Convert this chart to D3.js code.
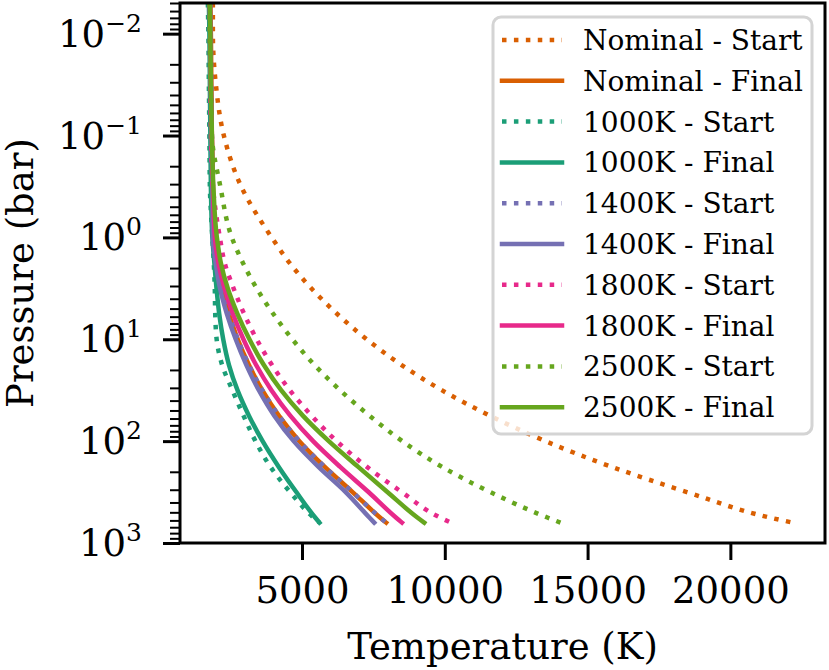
<!DOCTYPE html>
<html><head><meta charset="utf-8">
<script src="https://cdn.jsdelivr.net/npm/d3@7"></script>
<style>
body{margin:0;background:#fff}
svg{display:block}
text{font-family:"DejaVu Serif",serif;fill:#000}
</style>
</head><body>
<svg id="c" width="829" height="670"></svg>
<script>
// Pressure grid (bar) shared by every profile
const pressure = [0.005, 0.01, 0.0316, 0.1, 0.316, 1, 1.78, 3.16, 5.62, 10, 17.8, 31.6, 56.2, 100, 178, 316, 562, 631];

// Temperatures (K)
const nominalStart = [1878, 1878, 1983, 2262, 2870, 3936, 4564, 5324, 6224, 7264, 8474, 9894, 11574, 13524, 15824, 18474, 21374, 22178];
const nominalFinal = [1790, 1808, 1825, 1843, 1878, 1913, 2018, 2188, 2438, 2748, 3138, 3608, 4188, 4908, 5788, 6770, 7730, 7947];
const k1000Start  = [1703, 1720, 1738, 1756, 1773, 1860, 1910, 1945, 1960, 2010, 2200, 2560, 2950, 3370, 3890, 4580, 5400, 5610];
const k1000Final  = [1738, 1756, 1773, 1790, 1808, 1860, 1930, 2005, 2100, 2240, 2440, 2740, 3140, 3620, 4180, 4800, 5460, 5610];
const k1400Start  = [1790, 1808, 1825, 1843, 1878, 1913, 2018, 2188, 2438, 2748, 3138, 3608, 4188, 4908, 5788, 6770, 7730, 7947];
const k1400Final  = [1773, 1790, 1808, 1825, 1860, 1878, 1978, 2128, 2368, 2678, 3048, 3488, 4028, 4708, 5568, 6528, 7358, 7528];
const k1800Start  = [1773, 1773, 1790, 1810, 1880, 2122, 2292, 2602, 2972, 3412, 3942, 4572, 5332, 6212, 7262, 8492, 9832, 10216];
const k1800Final  = [1773, 1790, 1808, 1843, 1880, 1948, 2068, 2288, 2578, 2948, 3388, 3928, 4588, 5388, 6328, 7328, 8288, 8500];
const k2500Start  = [1773, 1773, 1808, 1843, 2140, 2541, 2931, 3411, 3991, 4661, 5431, 6331, 7361, 8511, 9891, 11591, 13591, 14051];
const k2500Final  = [1773, 1790, 1808, 1843, 1895, 2018, 2158, 2398, 2738, 3158, 3658, 4268, 5028, 5938, 6958, 7988, 9038, 9280];

const seriesLabels = ["Nominal - Start","Nominal - Final","1000K - Start","1000K - Final","1400K - Start","1400K - Final","1800K - Start","1800K - Final","2500K - Start","2500K - Final"];
const seriesValues = [nominalStart, nominalFinal, k1000Start, k1000Final, k1400Start, k1400Final, k1800Start, k1800Final, k2500Start, k2500Final];
const seriesDotted = [true,false,true,false,true,false,true,false,true,false];
const seriesColors = ["#d95f02","#d95f02","#1b9e77","#1b9e77","#7570b3","#7570b3","#e7298a","#e7298a","#66a61e","#66a61e"];

const xTickValues = [5000, 10000, 15000, 20000];
const yTickExponents = [-2, -1, 0, 1, 2, 3];
const xDomain = [727, 23314];
const yDomain = [0.005, 1000];

const svg = d3.select("#c");
const L = 180, R = 825, T = 3, B = 543;
const x = d3.scaleLinear().domain(xDomain).range([L, R]);
const y = d3.scaleLog().domain(yDomain).range([T, B]);
const LW = 4.5;

svg.append("defs").append("clipPath").attr("id","clip")
  .append("rect").attr("x",L).attr("y",T).attr("width",R-L).attr("height",B-T);

const line = d3.line().x(d=>x(d[0])).y(d=>y(d[1])).curve(d3.curveMonotoneY);

const gLines = svg.append("g").attr("clip-path","url(#clip)");
seriesValues.forEach((vals,i)=>{
  const pts = vals.map((t,j)=>[t, pressure[j]]);
  gLines.append("path").attr("d", line(pts))
    .attr("fill","none").attr("stroke", seriesColors[i]).attr("stroke-width", LW)
    .attr("stroke-linejoin","round")
    .attr("stroke-linecap", seriesDotted[i] ? "butt" : "square")
    .attr("stroke-dasharray", seriesDotted[i] ? `${LW},${LW*1.65}` : null);
});

// x axis
const xAxis = d3.axisBottom(x).tickValues(xTickValues).tickSize(17).tickPadding(17).tickFormat(d3.format("d"));
const gx = svg.append("g").attr("transform",`translate(0,${B})`).call(xAxis);
gx.select(".domain").remove();
gx.selectAll(".tick line").attr("stroke","#000").attr("stroke-width",3);
gx.selectAll(".tick text").attr("font-size",37).attr("font-family","DejaVu Serif").attr("fill","#000");

// y axis major
const yMajor = yTickExponents.map(e=>Math.pow(10,e));
const gy = svg.append("g").attr("transform",`translate(${L},0)`)
  .call(d3.axisLeft(y).tickValues(yMajor).tickSize(17).tickFormat(""));
gy.select(".domain").remove();
gy.selectAll(".tick line").attr("stroke","#000").attr("stroke-width",3);

// y axis minor
const yMinor = [];
for (let e=-3;e<3;e++) for (let m=2;m<=9;m++){ const v=m*Math.pow(10,e); if(v>=yDomain[0]-1e-12 && v<=yDomain[1]) yMinor.push(v); }
const gym = svg.append("g").attr("transform",`translate(${L},0)`)
  .call(d3.axisLeft(y).tickValues(yMinor).tickSize(10).tickFormat(""));
gym.select(".domain").remove();
gym.selectAll(".tick line").attr("stroke","#000").attr("stroke-width",2);

// y tick labels 10^e
yTickExponents.forEach(e=>{
  const t = svg.append("text").attr("x",142).attr("y", y(Math.pow(10,e))+13)
    .attr("text-anchor","end").attr("font-size",37);
  t.append("tspan").text("10");
  t.append("tspan").attr("font-size",25).attr("dy",-15).text(e<0 ? "\u2212"+Math.abs(e) : String(e));
});

// spines
svg.append("rect").attr("x",L).attr("y",T).attr("width",R-L).attr("height",B-T)
  .attr("fill","none").attr("stroke","#000").attr("stroke-width",3);

// axis labels
svg.append("text").attr("x",(L+R)/2).attr("y",659).attr("text-anchor","middle")
  .attr("font-size",37).text("Temperature (K)");
svg.append("text").attr("transform",`translate(33,${(T+B)/2}) rotate(-90)`)
  .attr("text-anchor","middle").attr("font-size",37).text("Pressure (bar)");

// legend
const lg = svg.append("g");
lg.append("rect").attr("x",493).attr("y",17).attr("width",319).attr("height",417)
  .attr("rx",8).attr("ry",8).attr("fill","rgba(255,255,255,0.8)")
  .attr("stroke","#d4d4d4").attr("stroke-width",3);
seriesLabels.forEach((lab,i)=>{
  const cy = 40 + i*40.8;
  lg.append("line").attr("x1",502).attr("x2",562).attr("y1",cy).attr("y2",cy)
    .attr("stroke",seriesColors[i]).attr("stroke-width",LW)
    .attr("stroke-linecap", seriesDotted[i] ? "butt" : "square")
    .attr("stroke-dasharray", seriesDotted[i] ? `${LW},${LW*1.65}` : null);
  lg.append("text").attr("x",583).attr("y",cy+10).attr("font-size",28).text(lab);
});
</script>
</body></html>
